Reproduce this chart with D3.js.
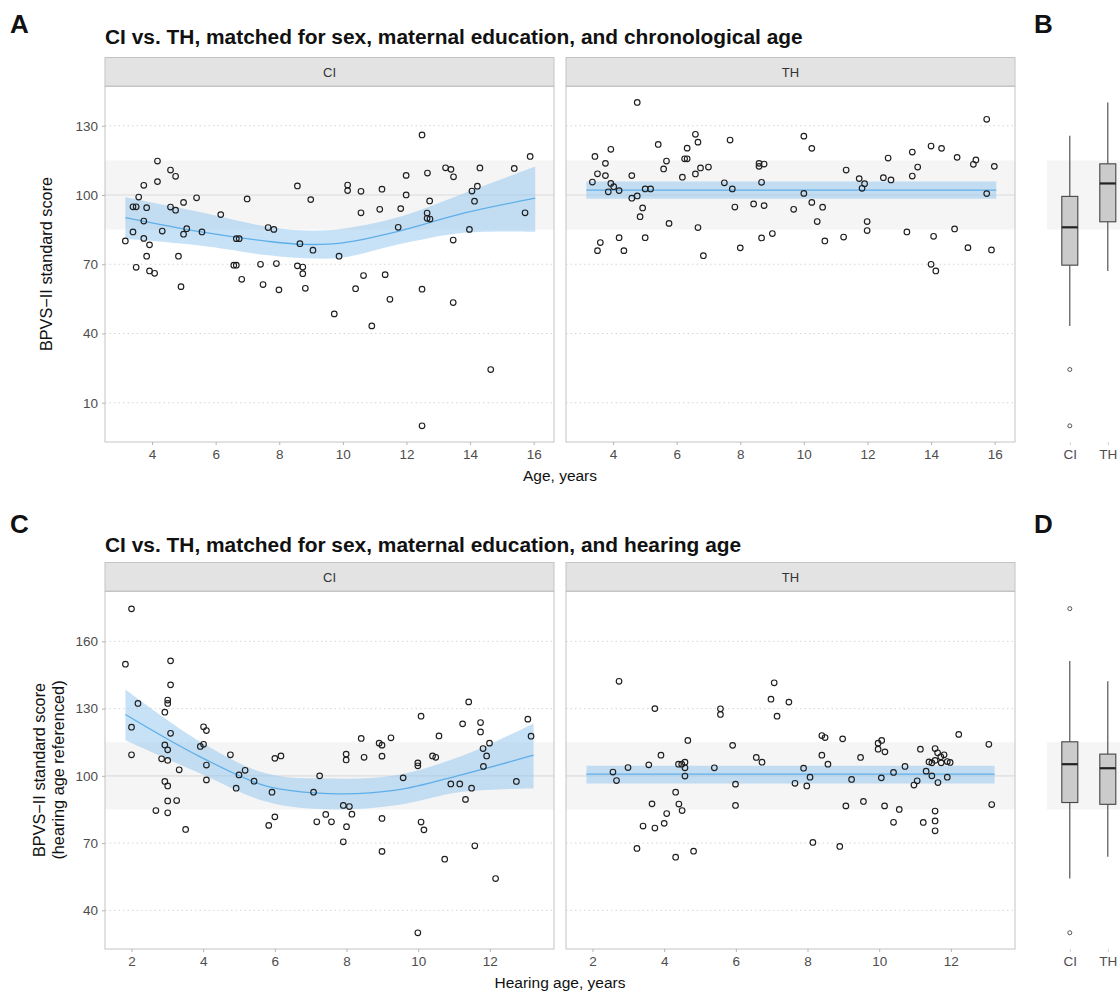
<!DOCTYPE html>
<html><head><meta charset="utf-8">
<script src="https://cdn.jsdelivr.net/npm/d3@7"></script>
<style>body{margin:0;background:#fff;} svg{display:block;}</style>
</head><body><svg id="chart" width="1120" height="992"></svg>
<script>
// ---------------- DATA ----------------
const groups = ["CI", "TH"];
const ageTicks = [4, 6, 8, 10, 12, 14, 16];
const hearTicks = [2, 4, 6, 8, 10, 12];
const scoreTicksA = [10, 40, 70, 100, 130];
const scoreTicksC = [40, 70, 100, 130, 160];
const refBand = [85, 115];
const ageDomain = [2.52, 16.64];
const hearDomain = [1.26, 13.79];
const scoreDomainA = [-7, 147];
const scoreDomainC = [22.75, 182.25];

// Panel A: CI, chronological age
const ciAgeX = [4.17,4.58,4.74,4.17,3.74,3.58,3.40,3.50,3.83,4.58,4.74,4.99,5.40,3.74,3.40,3.16,3.74,3.92,3.83,3.50,3.92,4.08,4.32,5.09,4.99,5.57,4.83,4.91,6.16,6.99,6.65,6.74,6.57,6.65,6.82,7.41,7.49,7.65,7.83,7.91,7.99,8.57,8.99,8.65,9.06,8.57,8.74,8.74,8.82,9.73,9.88,10.15,10.15,10.57,11.23,10.57,11.16,11.82,11.99,11.99,11.74,10.65,11.33,10.40,11.48,10.91,12.49,12.66,12.73,12.65,12.65,12.74,12.49,13.23,13.40,13.48,13.47,13.47,14.06,14.23,14.14,13.98,14.31,14.65,15.39,15.89,15.73,12.49];
const ciAgeScore = [114.7,110.8,108.1,105.8,104.2,99.1,94.9,94.9,94.5,94.8,93.4,96.8,98.8,88.7,84.0,80.1,81.2,78.4,73.5,68.7,67.1,66.1,84.4,85.4,83.0,84.0,73.5,60.3,91.5,98.3,81.1,81.1,69.6,69.6,63.5,70.0,61.2,85.9,85.1,70.3,58.9,103.9,98.0,78.9,76.1,69.3,68.8,65.9,59.6,48.5,73.5,104.3,101.9,101.6,102.5,92.3,93.8,94.1,108.5,100.0,86.0,65.1,65.5,59.4,54.8,43.3,126.0,109.5,97.4,92.2,89.9,89.6,59.2,111.8,111.1,107.9,80.5,53.4,101.7,103.8,97.3,85.1,111.7,24.4,111.5,116.7,92.3,0];
// Panel A: TH, chronological age
const thAgeX = [4.76,3.43,3.93,3.76,3.51,3.76,3.35,3.93,4.02,3.85,4.19,4.59,4.59,4.76,4.93,4.85,5.01,5.18,4.19,3.60,3.51,4.34,5.01,5.42,5.68,5.59,5.76,6.18,6.25,6.33,6.33,6.59,6.67,6.59,6.75,7.00,6.67,6.84,7.68,7.50,7.75,7.83,8.00,8.42,8.59,8.59,8.75,8.67,8.75,8.67,9.01,9.68,10.0,10.25,10.0,10.25,10.59,10.42,10.66,11.25,11.33,11.74,11.91,11.83,11.99,11.99,12.65,12.50,12.74,13.24,13.41,13.58,13.41,14.0,14.33,14.08,14.0,14.15,14.82,14.74,15.16,15.33,15.41,15.75,15.75,15.99,15.90];
const thAgeScore = [140.1,116.7,119.8,113.7,109.2,108.4,105.6,105.0,103.6,101.4,101.9,108.4,98.6,99.6,94.4,90.6,102.6,102.6,81.5,79.4,75.9,75.9,81.5,121.9,114.7,111.3,87.7,107.7,115.7,115.7,120.3,126.3,122.9,109.1,111.7,112.1,85.9,73.7,123.8,105.3,102.6,94.8,77.1,96.1,113.7,112.4,113.4,105.5,95.4,81.4,83.3,93.8,125.5,120.2,100.7,96.8,94.7,88.5,80.1,81.8,110.8,107.1,104.9,102.9,88.5,84.6,116.0,107.5,106.5,84.0,118.6,112.1,108.2,121.2,120.2,82.1,70.0,67.1,116.3,85.3,77.2,113.3,115.2,132.8,100.6,112.4,76.2];

// Panel C: CI, hearing age
const ciHearX = [2.0,1.83,2.18,2.0,2.0,3.09,3.09,3.01,3.01,2.93,3.09,2.93,3.01,2.84,3.01,3.33,2.93,3.01,3.01,3.26,2.68,3.01,3.51,4.01,4.09,4.01,3.92,4.09,4.09,4.76,5.0,5.17,4.92,5.42,6.0,6.17,5.92,6.0,5.83,7.08,7.25,7.17,7.42,7.58,7.99,7.99,7.91,8.08,8.15,8.0,7.91,8.41,8.49,8.91,8.99,9.24,8.99,8.99,8.99,9.58,9.99,9.99,10.08,10.08,10.16,9.99,10.40,10.49,10.58,10.74,10.91,11.16,11.24,11.41,11.32,11.49,11.58,11.74,11.74,11.81,11.99,11.91,11.82,12.16,12.74,13.06,13.15];
const ciHearScore = [174.5,149.8,132.3,121.7,109.4,151.3,140.6,133.8,132.3,128.4,119.0,113.8,111.6,107.6,106.9,102.7,97.5,95.5,88.8,89.0,84.5,83.5,76.1,121.9,120.2,114.1,113.1,104.8,98.2,109.4,100.4,102.5,94.5,97.6,107.8,108.9,92.7,81.7,77.9,92.7,100.0,79.5,82.8,79.5,109.7,107.1,86.8,86.3,82.9,77.3,70.6,116.7,108.3,114.6,113.7,117.0,108.8,81.0,66.3,99.1,105.8,104.5,126.6,79.4,75.9,30.0,108.9,108.3,117.8,62.8,96.4,96.4,123.2,133.0,89.5,94.5,68.8,123.8,119.6,112.2,114.6,108.9,104.2,54.2,97.5,125.3,117.7];
// Panel C: TH, hearing age
const thHearX = [2.74,3.74,2.57,2.67,2.99,3.57,3.91,4.66,4.40,4.49,4.58,4.58,4.58,4.32,3.66,4.41,4.50,4.07,4.0,3.41,3.74,3.24,4.32,4.82,5.40,5.57,5.57,5.91,5.99,5.99,6.57,6.73,7.07,6.98,7.48,7.15,7.65,7.89,7.98,8.07,8.40,8.49,8.40,8.57,8.15,8.98,9.23,9.07,8.90,9.48,9.56,9.97,10.07,9.97,10.16,10.06,10.15,10.40,10.56,10.40,10.72,11.15,11.06,10.97,11.23,11.31,11.39,11.47,11.56,11.63,11.56,11.73,11.72,11.81,11.90,11.98,11.47,11.64,11.90,11.56,11.56,11.56,12.22,13.06,13.14];
const thHearScore = [142.2,130.0,101.7,97.9,103.7,104.9,109.2,115.8,105.2,105.2,106.1,103.6,99.9,92.7,87.5,87.4,84.5,83.2,78.8,77.6,76.7,67.6,63.7,66.4,103.6,129.9,127.4,113.6,96.3,86.8,108.2,106.1,141.5,134.2,132.9,126.6,96.7,103.4,95.5,99.4,118.0,117.1,109.2,105.2,70.3,116.5,98.4,86.6,68.5,108.2,88.6,114.6,115.8,111.9,110.7,99.1,86.6,101.5,85.0,79.3,104.2,111.9,97.8,95.9,79.2,102.1,106.2,105.8,112.2,110.3,106.9,105.8,108.5,109.4,106.4,106.0,100.0,97.0,99.4,84.3,79.9,75.5,118.5,114.1,87.2];

// Smooth fits: x, fit, lower, upper
const fitA_CI_x  = [3.16, 5.5, 7.6, 8.8, 10.0, 11.7, 13.8, 16.05];
const fitA_CI_y  = [90.2, 84.1, 80.0, 78.6, 79.3, 84.1, 92.1, 98.6];
const fitA_CI_lo = [81.0, 78.1, 74.0, 72.6, 72.9, 78.4, 83.6, 84.1];
const fitA_CI_hi = [99.0, 92.6, 86.3, 84.6, 85.4, 90.2, 100.7, 112.3];
const fitA_TH_x  = [3.16, 16.05];
const fitA_TH_y  = [102.1, 102.1];
const fitA_TH_lo = [98.4, 98.4];
const fitA_TH_hi = [105.9, 105.9];
const fitC_CI_x  = [1.83, 3.92, 5.77, 7.5, 9.38, 11.23, 13.22];
const fitC_CI_y  = [127.4, 108.5, 95.4, 92.1, 93.6, 100.6, 109.2];
const fitC_CI_lo = [115.9, 101.0, 88.4, 85.0, 86.9, 92.9, 94.4];
const fitC_CI_hi = [138.5, 115.2, 101.0, 98.8, 100.3, 109.0, 123.4];
const fitC_TH_x  = [1.83, 13.22];
const fitC_TH_y  = [100.8, 100.8];
const fitC_TH_lo = [96.6, 96.6];
const fitC_TH_hi = [104.5, 104.5];

// Boxplot stats: [lower whisker, Q1, median, Q3, upper whisker]
const boxB_CI = [43.3, 69.6, 86.0, 99.4, 125.7];
const boxB_CI_out = [24.4, 0];
const boxB_TH = [67.1, 88.4, 105.0, 113.5, 140.1];
const boxB_TH_out = [];
const boxD_CI = [54.2, 88.1, 105.2, 115.2, 151.2];
const boxD_CI_out = [174.6, 30.0];
const boxD_TH = [63.9, 87.3, 103.4, 109.7, 142.2];
const boxD_TH_out = [];

// ---------------- DRAW ----------------
const FONT = '"Liberation Sans", Arial, Helvetica, sans-serif';
const svg = d3.select("#chart").style("font-family", FONT);
const PX = [[105, 554], [566, 1015]];
const BOXX = [1047, 1130.6];
const fitColor = "#5eaee8", bandColor = "#8fc6f0";

function zipFit(xs, ys, lo, hi) { return xs.map((x, i) => ({x, y: ys[i], lo: lo[i], hi: hi[i]})); }

function styleAxis(g, labelColor) {
  g.select(".domain").remove();
  g.selectAll(".tick line").attr("stroke", "#b5b5b5");
  g.selectAll(".tick text").attr("fill", labelColor || "#4d4d4d").style("font-size", "13.5px").style("font-family", FONT);
}

function scatterPanel(opt) {
  const [x0, x1] = opt.xr;
  const x = d3.scaleLinear().domain(opt.xDomain).range([x0, x1]);
  const y = d3.scaleLinear().domain(opt.yDomain).range([opt.yBot, opt.yTop]);
  const g = svg.append("g");
  // strip
  g.append("rect").attr("x", x0).attr("y", opt.yTop - 29).attr("width", x1 - x0).attr("height", 28.5)
    .attr("fill", "#e3e3e3").attr("stroke", "#c4c4c4").attr("stroke-width", 1);
  g.append("text").attr("x", (x0 + x1) / 2).attr("y", opt.yTop - 10).attr("text-anchor", "middle")
    .style("font-size", "13px").attr("fill", "#333").text(opt.strip);
  // reference band
  g.append("rect").attr("x", x0).attr("width", x1 - x0).attr("y", y(refBand[1]))
    .attr("height", y(refBand[0]) - y(refBand[1])).attr("fill", "#f5f5f5");
  // grid
  g.selectAll("line.grid").data(opt.yTicks).join("line").attr("class", "grid")
    .attr("x1", x0).attr("x2", x1).attr("y1", d => y(d)).attr("y2", d => y(d))
    .attr("stroke", d => d === 100 ? "#dcdcdc" : "#d6d6d6")
    .attr("stroke-width", d => d === 100 ? 1.2 : 1)
    .attr("stroke-dasharray", d => d === 100 ? null : "1.5,3");
  // fit ribbon + line
  const fd = zipFit(opt.fit[0], opt.fit[1], opt.fit[2], opt.fit[3]);
  const curve = d3.curveCatmullRom.alpha(0.5);
  g.append("path").datum(fd).attr("fill", bandColor).attr("fill-opacity", 0.5)
    .attr("d", d3.area().x(d => x(d.x)).y0(d => y(d.lo)).y1(d => y(d.hi)).curve(curve));
  g.append("path").datum(fd).attr("fill", "none").attr("stroke", fitColor).attr("stroke-width", 1.3)
    .attr("d", d3.line().x(d => x(d.x)).y(d => y(d.y)).curve(curve));
  // points
  g.selectAll("circle.pt").data(opt.xs.map((v, i) => [v, opt.ys[i]])).join("circle").attr("class", "pt")
    .attr("cx", d => x(d[0])).attr("cy", d => y(d[1])).attr("r", 2.8)
    .attr("fill", "none").attr("stroke", "#1e1e1e").attr("stroke-width", 1.15);
  // border
  g.append("rect").attr("x", x0).attr("y", opt.yTop).attr("width", x1 - x0).attr("height", opt.yBot - opt.yTop)
    .attr("fill", "none").attr("stroke", "#c4c4c4").attr("stroke-width", 1);
  // axes
  const ax = g.append("g").attr("transform", `translate(0,${opt.yBot})`)
    .call(d3.axisBottom(x).tickValues(opt.xTicks).tickSize(3).tickPadding(4));
  styleAxis(ax);
  if (opt.yAxis) {
    const ay = g.append("g").attr("transform", `translate(${x0},0)`)
      .call(d3.axisLeft(y).tickValues(opt.yTicks).tickSize(3).tickPadding(4));
    styleAxis(ay);
  }
  return y;
}

function boxPanel(opt) {
  const x = d3.scalePoint().domain(groups).range(BOXX).padding(0.6);
  const y = d3.scaleLinear().domain(opt.yDomain).range([opt.yBot, opt.yTop]);
  const g = svg.append("g");
  g.append("rect").attr("x", BOXX[0]).attr("width", BOXX[1] - BOXX[0]).attr("y", y(refBand[1]))
    .attr("height", y(refBand[0]) - y(refBand[1])).attr("fill", "#f5f5f5");
  const bw = 16;
  groups.forEach((k, i) => {
    const s = opt.stats[i], cx = x(k);
    g.append("line").attr("x1", cx).attr("x2", cx).attr("y1", y(s[0])).attr("y2", y(s[1])).attr("stroke", "#444").attr("stroke-width", 1.1);
    g.append("line").attr("x1", cx).attr("x2", cx).attr("y1", y(s[3])).attr("y2", y(s[4])).attr("stroke", "#444").attr("stroke-width", 1.1);
    g.append("rect").attr("x", cx - bw / 2).attr("width", bw).attr("y", y(s[3])).attr("height", y(s[1]) - y(s[3]))
      .attr("fill", "#cbcbcb").attr("stroke", "#444").attr("stroke-width", 1.1);
    g.append("line").attr("x1", cx - bw / 2).attr("x2", cx + bw / 2).attr("y1", y(s[2])).attr("y2", y(s[2]))
      .attr("stroke", "#222").attr("stroke-width", 2.2);
    g.selectAll(null).data(opt.outs[i]).join("circle").attr("cx", cx).attr("cy", d => y(d)).attr("r", 2)
      .attr("fill", "none").attr("stroke", "#555").attr("stroke-width", 1);
  });
  const ax = g.append("g").attr("transform", `translate(0,${opt.yBot})`)
    .call(d3.axisBottom(x).tickSize(3).tickPadding(4));
  styleAxis(ax);
  ax.selectAll(".tick line").attr("stroke", "#cfcfcf");
}

function label(txt, x, y, size, weight, anchor, rotate) {
  const t = svg.append("text").attr("x", x).attr("y", y).style("font-size", size + "px")
    .style("font-weight", weight || "normal").attr("fill", "#111").attr("text-anchor", anchor || "start").text(txt);
  if (rotate) t.attr("transform", `rotate(-90,${x},${y})`);
  return t;
}

// Row A / B
const rowA = {yTop: 86.5, yBot: 442, yDomain: scoreDomainA, yTicks: scoreTicksA, xDomain: ageDomain, xTicks: ageTicks};
scatterPanel({...rowA, xr: PX[0], strip: "CI", xs: ciAgeX, ys: ciAgeScore, yAxis: true,
  fit: [fitA_CI_x, fitA_CI_y, fitA_CI_lo, fitA_CI_hi]});
scatterPanel({...rowA, xr: PX[1], strip: "TH", xs: thAgeX, ys: thAgeScore, yAxis: false,
  fit: [fitA_TH_x, fitA_TH_y, fitA_TH_lo, fitA_TH_hi]});
boxPanel({yTop: 86.5, yBot: 442, yDomain: scoreDomainA, stats: [boxB_CI, boxB_TH], outs: [boxB_CI_out, boxB_TH_out]});

// Row C / D
const rowC = {yTop: 591.5, yBot: 949, yDomain: scoreDomainC, yTicks: scoreTicksC, xDomain: hearDomain, xTicks: hearTicks};
scatterPanel({...rowC, xr: PX[0], strip: "CI", xs: ciHearX, ys: ciHearScore, yAxis: true,
  fit: [fitC_CI_x, fitC_CI_y, fitC_CI_lo, fitC_CI_hi]});
scatterPanel({...rowC, xr: PX[1], strip: "TH", xs: thHearX, ys: thHearScore, yAxis: false,
  fit: [fitC_TH_x, fitC_TH_y, fitC_TH_lo, fitC_TH_hi]});
boxPanel({yTop: 591.5, yBot: 949, yDomain: scoreDomainC, stats: [boxD_CI, boxD_TH], outs: [boxD_CI_out, boxD_TH_out]});

// Texts
label("A", 10, 33, 26, "bold");
label("B", 1034, 33, 26, "bold");
label("C", 10, 533, 26, "bold");
label("D", 1034, 533, 26, "bold");
label("CI vs. TH, matched for sex, maternal education, and chronological age", 105, 44, 20.9, "bold");
label("CI vs. TH, matched for sex, maternal education, and hearing age", 105, 552, 20.9, "bold");
label("Age, years", 560, 481, 15.5, "normal", "middle");
label("Hearing age, years", 560, 988, 15.5, "normal", "middle");
label("BPVS\u2212II standard score", 52, 264, 16.3, "normal", "middle", true);
label("BPVS\u2212II standard score", 45, 770, 16.3, "normal", "middle", true);
label("(hearing age referenced)", 64, 770, 16.3, "normal", "middle", true);
</script></body></html>
